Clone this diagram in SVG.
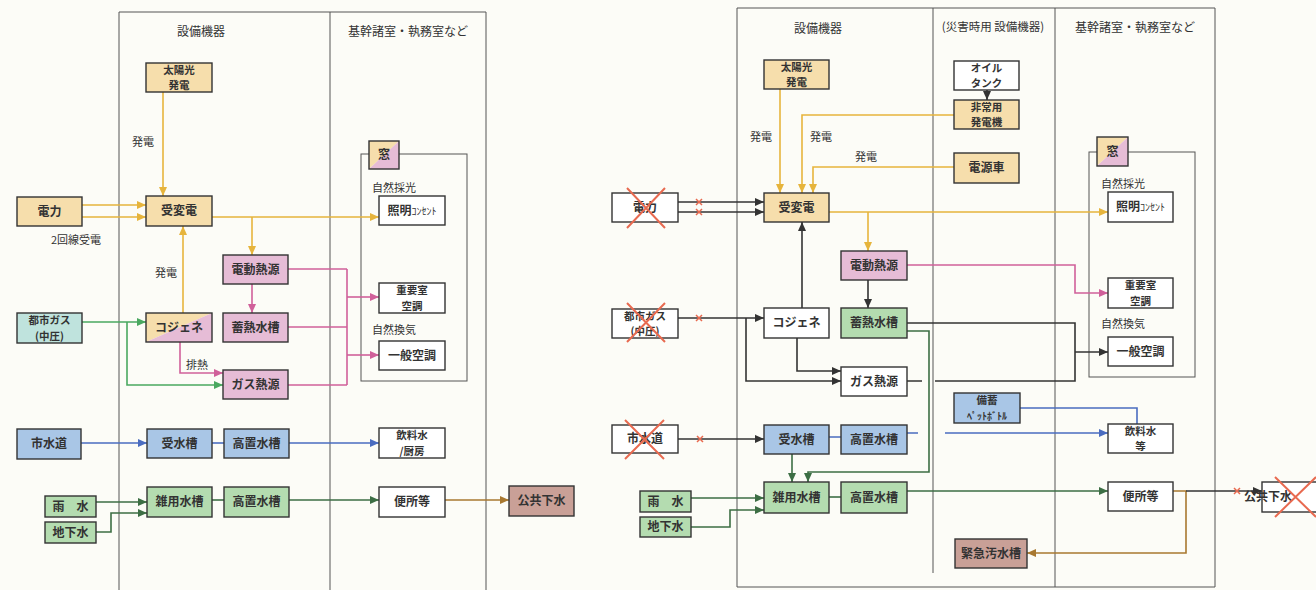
<svg xmlns="http://www.w3.org/2000/svg" width="1316" height="590" viewBox="0 0 1316 590">
<style>
.panel{fill:none;stroke:#555;stroke-width:1}
.box{stroke:#333;stroke-width:1.4}
.tan{fill:#f6deac}.pk{fill:#e6bcd6}.tl{fill:#bfe3dd}.bl{fill:#a9c6e6}.gr{fill:#b4dcb0}.br{fill:#c9a097}.wh{fill:#fff}
.t{font-family:"Noto Sans CJK JP",sans-serif;font-size:12px;font-weight:700;fill:#333;text-anchor:middle}
.t2{font-family:"Noto Sans CJK JP",sans-serif;font-size:10.5px;font-weight:700;fill:#333;text-anchor:middle}
.h{font-family:"Noto Sans CJK JP",sans-serif;font-size:12px;fill:#333;text-anchor:middle}
.l{font-family:"Noto Sans CJK JP",sans-serif;font-size:11px;fill:#333}
.c{fill:none;stroke-width:1.6}
.or{stroke:#e6b43c}.pi{stroke:#d0609a}.ga{stroke:#4aa860}.bu{stroke:#4a6cc0}.dg{stroke:#3c6e44}.bw{stroke:#a87830}.bk{stroke:#333}
.x{stroke:#e86a50;stroke-width:2;fill:none}
.xs{stroke:#e86a50;stroke-width:1.5;fill:none}
</style>
<defs>
<marker id="aor" markerUnits="userSpaceOnUse" markerWidth="9" markerHeight="8" refX="9" refY="4" orient="auto"><path d="M0,0 L9,4 L0,8 z" fill="#e6b43c"/></marker>
<marker id="api" markerUnits="userSpaceOnUse" markerWidth="9" markerHeight="8" refX="9" refY="4" orient="auto"><path d="M0,0 L9,4 L0,8 z" fill="#d0609a"/></marker>
<marker id="aga" markerUnits="userSpaceOnUse" markerWidth="9" markerHeight="8" refX="9" refY="4" orient="auto"><path d="M0,0 L9,4 L0,8 z" fill="#4aa860"/></marker>
<marker id="abu" markerUnits="userSpaceOnUse" markerWidth="9" markerHeight="8" refX="9" refY="4" orient="auto"><path d="M0,0 L9,4 L0,8 z" fill="#4a6cc0"/></marker>
<marker id="adg" markerUnits="userSpaceOnUse" markerWidth="9" markerHeight="8" refX="9" refY="4" orient="auto"><path d="M0,0 L9,4 L0,8 z" fill="#3c6e44"/></marker>
<marker id="abw" markerUnits="userSpaceOnUse" markerWidth="9" markerHeight="8" refX="9" refY="4" orient="auto"><path d="M0,0 L9,4 L0,8 z" fill="#a87830"/></marker>
<marker id="abk" markerUnits="userSpaceOnUse" markerWidth="9" markerHeight="8" refX="9" refY="4" orient="auto"><path d="M0,0 L9,4 L0,8 z" fill="#333"/></marker>
</defs>
<rect width="1316" height="590" fill="#fcfcf7"/>

<!-- LEFT PANEL -->
<g id="left-panel">
<path class="panel" d="M119,590 V12 H486 V590 M330,12 V590"/>
<text class="h" x="201" y="36">設備機器</text>
<text class="h" x="408" y="36">基幹諸室・執務室など</text>
<rect class="panel" x="361" y="154" width="106" height="227"/>
</g>

<!-- RIGHT PANEL -->
<g id="right-panel">
<path class="panel" d="M737,8 H1215 V587 H737 Z M933,8 V573 M1055,8 V587"/>
<text class="h" x="818" y="33">設備機器</text>
<text class="h" x="993" y="31" style="font-size:11.5px">(災害時用 設備機器)</text>
<text class="h" x="1135" y="32">基幹諸室・執務室など</text>
<rect class="panel" x="1089" y="152" width="106" height="225"/>
</g>

<!-- CONNECTORS -->
<g id="connectors">
<path class="c or" d="M82,205 H146" marker-end="url(#aor)"/>
<path class="c or" d="M82,217 H146" marker-end="url(#aor)"/>
<path class="c or" d="M163,92 V196" marker-end="url(#aor)"/>
<path class="c or" d="M183,313 V226" marker-end="url(#aor)"/>
<path class="c or" d="M212,217 H379" marker-end="url(#aor)"/>
<path class="c or" d="M252,217 V255" marker-end="url(#aor)"/>
<path class="c pi" d="M252,284 V313" marker-end="url(#api)"/>
<path class="c pi" d="M180,342 V373 H223" marker-end="url(#api)"/>
<path class="c ga" d="M82,322 H146" marker-end="url(#aga)"/>
<path class="c ga" d="M127,322 V385 H223" marker-end="url(#aga)"/>
<path class="c pi" d="M288,269 H347 M288,327 H347 M288,385 H347 M347,269 V385"/>
<path class="c pi" d="M347,297 H379" marker-end="url(#api)"/>
<path class="c pi" d="M347,355 H379" marker-end="url(#api)"/>
<path class="c bu" d="M81,443 H147" marker-end="url(#abu)"/>
<path class="c bu" d="M212,443 H224"/>
<path class="c bu" d="M289,443 H379" marker-end="url(#abu)"/>
<path class="c dg" d="M96,502 H147" marker-end="url(#adg)"/>
<path class="c dg" d="M96,532 H111 V513 H147" marker-end="url(#adg)"/>
<path class="c dg" d="M212,500 H224"/>
<path class="c dg" d="M289,500 H379" marker-end="url(#adg)"/>
<path class="c bw" d="M445,500 H509" marker-end="url(#abw)"/>
<path class="c bk" d="M678,202 H764" marker-end="url(#abk)"/>
<path class="c bk" d="M678,212 H764" marker-end="url(#abk)"/>
<path class="c or" d="M780,89 V193" marker-end="url(#aor)"/>
<path class="c or" d="M954,115 H802 V193" marker-end="url(#aor)"/>
<path class="c or" d="M954,167 H813 V193" marker-end="url(#aor)"/>
<path class="c bk" d="M987,90 V100" marker-end="url(#abk)"/>
<path class="c or" d="M829,212 H1108" marker-end="url(#aor)"/>
<path class="c or" d="M868,212 V251" marker-end="url(#aor)"/>
<path class="c bk" d="M868,280 V308" marker-end="url(#abk)"/>
<path class="c bk" d="M802,308 V222" marker-end="url(#abk)"/>
<path class="c bk" d="M678,318 H764" marker-end="url(#abk)"/>
<path class="c bk" d="M746,318 V381 H841" marker-end="url(#abk)"/>
<path class="c bk" d="M797,338 V371 H841" marker-end="url(#abk)"/>
<path class="c pi" d="M907,265 H1075 V293 H1108" marker-end="url(#api)"/>
<path class="c bk" d="M907,323 H1075 V381 H935 M922,381 H907"/>
<path class="c bk" d="M1075,352 H1108" marker-end="url(#abk)"/>
<path class="c dg" d="M907,331 H929 V472 H808 V482" marker-end="url(#adg)"/>
<path class="c dg" d="M792,454 V482" marker-end="url(#adg)"/>
<path class="c bk" d="M678,439 H764" marker-end="url(#abk)"/>
<path class="c bu" d="M829,437 H841 M907,433 H918"/>
<path class="c bu" d="M945,433 H1108" marker-end="url(#abu)"/>
<path class="c bu" d="M1020,408 H1137 V424"/>
<path class="c dg" d="M691,498 H764" marker-end="url(#adg)"/>
<path class="c dg" d="M691,527 H730 V510 H764" marker-end="url(#adg)"/>
<path class="c dg" d="M829,497 H841"/>
<path class="c dg" d="M907,491 H1108" marker-end="url(#adg)"/>
<path class="c bw" d="M1173,491 H1186 V553 H1027" marker-end="url(#abw)"/>
<path class="c bk" d="M1186,491 H1262" marker-end="url(#abk)"/>
<path class="xs" d="M696,199 L702,205 M702,199 L696,205 M696,209 L702,215 M702,209 L696,215 M696,315 L702,321 M702,315 L696,321 M697,436 L703,442 M703,436 L697,442 M1234,488 L1240,494 M1240,488 L1234,494"/>
</g>

<!-- LABELS -->
<g id="labels">
<text class="l" x="143" y="146" text-anchor="middle">発電</text>
<text class="l" x="166" y="277" text-anchor="middle">発電</text>
<text class="l" x="197" y="369" text-anchor="middle">排熱</text>
<text class="l" x="51" y="244">2回線受電</text>
<text class="l" x="372" y="192">自然採光</text>
<text class="l" x="372" y="334">自然換気</text>
<text class="l" x="761" y="141" text-anchor="middle">発電</text>
<text class="l" x="821" y="141" text-anchor="middle">発電</text>
<text class="l" x="866" y="161" text-anchor="middle">発電</text>
<text class="l" x="1101" y="188">自然採光</text>
<text class="l" x="1101" y="328">自然換気</text>
</g>

<!-- LEFT NODES -->
<g id="L-solar"><rect class="box tan" x="146" y="63" width="66" height="29"/><text class="t2" x="179" y="74">太陽光<tspan x="179" dy="15.3">発電</tspan></text></g>
<g id="L-jyuhen"><rect class="box tan" x="146" y="196" width="66" height="30"/><text class="t" x="179" y="215">受変電</text></g>
<g id="L-denryoku"><rect class="box tan" x="17" y="197" width="65" height="29"/><text class="t" x="49.5" y="216">電力</text></g>
<g id="L-dendo"><rect class="box pk" x="223" y="255" width="65" height="29"/><text class="t" x="255.5" y="274">電動熱源</text></g>
<g id="L-chikunetsu"><rect class="box pk" x="223" y="313" width="65" height="29"/><text class="t" x="255.5" y="332">蓄熱水槽</text></g>
<g id="L-cogen"><polygon class="tan" points="146,313 212,313 146,342"/><polygon class="pk" points="212,313 212,342 146,342"/><rect class="box" fill="none" x="146" y="313" width="66" height="29"/><text class="t" x="179" y="332">コジェネ</text></g>
<g id="L-toshigas"><rect class="box tl" x="17" y="313" width="65" height="30"/><text class="t2" x="49.5" y="324.4">都市ガス<tspan x="49.5" dy="15.3">(中圧)</tspan></text></g>
<g id="L-gasnetsu"><rect class="box pk" x="223" y="370" width="65" height="29"/><text class="t" x="255.5" y="389">ガス熱源</text></g>
<g id="L-mado"><polygon class="tan" points="369,141 399,141 369,169"/><polygon class="pk" points="399,141 399,169 369,169"/><rect class="box" fill="none" x="369" y="141" width="30" height="28"/><text class="t" x="384" y="159">窓</text></g>
<g id="L-shomei"><rect class="box wh" x="379" y="196" width="66" height="29"/><text class="t" x="412" y="215">照明<tspan style="font-size:10px;font-weight:400">ｺﾝｾﾝﾄ</tspan></text></g>
<g id="L-juyo"><rect class="box wh" x="379" y="283" width="66" height="30"/><text class="t2" x="412" y="294.4">重要室<tspan x="412" dy="15.3">空調</tspan></text></g>
<g id="L-ippan"><rect class="box wh" x="379" y="341" width="66" height="29"/><text class="t" x="412" y="360">一般空調</text></g>
<g id="L-shisuido"><rect class="box bl" x="17" y="429" width="64" height="30"/><text class="t" x="49" y="448">市水道</text></g>
<g id="L-jusui"><rect class="box bl" x="147" y="429" width="65" height="29"/><text class="t" x="179.5" y="448">受水槽</text></g>
<g id="L-kochi1"><rect class="box bl" x="224" y="429" width="65" height="29"/><text class="t" x="256.5" y="448">高置水槽</text></g>
<g id="L-inryo"><rect class="box wh" x="379" y="428" width="66" height="30"/><text class="t2" x="412" y="439.4">飲料水<tspan x="412" dy="15.3">/厨房</tspan></text></g>
<g id="L-zatsuyo"><rect class="box gr" x="147" y="487" width="65" height="30"/><text class="t" x="179.5" y="506">雑用水槽</text></g>
<g id="L-kochi2"><rect class="box gr" x="224" y="487" width="65" height="30"/><text class="t" x="256.5" y="506">高置水槽</text></g>
<g id="L-benjo"><rect class="box wh" x="379" y="487" width="66" height="30"/><text class="t" x="412" y="506">便所等</text></g>
<g id="L-kokyo"><rect class="box br" x="509" y="486" width="65" height="30"/><text class="t" x="541.5" y="505">公共下水</text></g>
<g id="L-usui"><rect class="box gr" x="45" y="496" width="51" height="21"/><text class="t" x="70.5" y="511">雨　水</text></g>
<g id="L-chika"><rect class="box gr" x="45" y="522" width="51" height="21"/><text class="t" x="70.5" y="537">地下水</text></g>

<!-- RIGHT NODES -->
<g id="R-solar"><rect class="box tan" x="764" y="60" width="65" height="29"/><text class="t2" x="796.5" y="70.9">太陽光<tspan x="796.5" dy="15.3">発電</tspan></text></g>
<g id="R-oil"><rect class="box wh" x="954" y="61" width="65" height="29"/><text class="t2" x="986.5" y="71.9">オイル<tspan x="986.5" dy="15.3">タンク</tspan></text></g>
<g id="R-hijo"><rect class="box tan" x="954" y="100" width="65" height="29"/><text class="t2" x="986.5" y="110.9">非常用<tspan x="986.5" dy="15.3">発電機</tspan></text></g>
<g id="R-dengen"><rect class="box tan" x="954" y="153" width="65" height="30"/><text class="t" x="986.5" y="172">電源車</text></g>
<g id="R-denryoku"><rect class="box wh" x="612" y="193" width="66" height="29"/><text class="t" x="645" y="212">電力</text><path class="x" d="M627,188 L665,228 M665,188 L627,228"/></g>
<g id="R-jyuhen"><rect class="box tan" x="764" y="193" width="65" height="29"/><text class="t" x="796.5" y="212">受変電</text></g>
<g id="R-mado"><polygon class="tan" points="1097,137 1128,137 1097,166"/><polygon class="pk" points="1128,137 1128,166 1097,166"/><rect class="box" fill="none" x="1097" y="137" width="31" height="29"/><text class="t" x="1112.5" y="156">窓</text></g>
<g id="R-shomei"><rect class="box wh" x="1108" y="192" width="65" height="30"/><text class="t" x="1140.5" y="211">照明<tspan style="font-size:10px;font-weight:400">ｺﾝｾﾝﾄ</tspan></text></g>
<g id="R-dendo"><rect class="box pk" x="841" y="251" width="66" height="29"/><text class="t" x="874" y="270">電動熱源</text></g>
<g id="R-juyo"><rect class="box wh" x="1108" y="278" width="65" height="30"/><text class="t2" x="1140.5" y="289.4">重要室<tspan x="1140.5" dy="15.3">空調</tspan></text></g>
<g id="R-ippan"><rect class="box wh" x="1108" y="337" width="65" height="29"/><text class="t" x="1140.5" y="356">一般空調</text></g>
<g id="R-toshigas"><rect class="box wh" x="612" y="309" width="66" height="29"/><text class="t2" x="645" y="319.9">都市ガス<tspan x="645" dy="15.3">(中圧)</tspan></text><path class="x" d="M627,303 L665,342 M665,303 L627,342"/></g>
<g id="R-cogen"><rect class="box wh" x="764" y="308" width="65" height="30"/><text class="t" x="796.5" y="327">コジェネ</text></g>
<g id="R-chikunetsu"><rect class="box gr" x="841" y="308" width="66" height="30"/><text class="t" x="874" y="327">蓄熱水槽</text></g>
<g id="R-gasnetsu"><rect class="box wh" x="841" y="367" width="66" height="29"/><text class="t" x="874" y="386">ガス熱源</text></g>
<g id="R-bichiku"><rect class="box bl" x="954" y="393" width="66" height="30"/><text class="t2" x="987" y="404.4">備蓄<tspan x="987" dy="15.3" style="font-size:10px">ﾍﾟｯﾄﾎﾞﾄﾙ</tspan></text></g>
<g id="R-shisuido"><rect class="box wh" x="612" y="425" width="66" height="28"/><text class="t" x="645" y="443">市水道</text><path class="x" d="M625,420 L664,459 M664,420 L625,459"/></g>
<g id="R-jusui"><rect class="box bl" x="764" y="425" width="65" height="29"/><text class="t" x="796.5" y="444">受水槽</text></g>
<g id="R-kochi1"><rect class="box bl" x="841" y="425" width="66" height="29"/><text class="t" x="874" y="444">高置水槽</text></g>
<g id="R-inryo"><rect class="box wh" x="1108" y="424" width="65" height="29"/><text class="t2" x="1140.5" y="434.9">飲料水<tspan x="1140.5" dy="15.3">等</tspan></text></g>
<g id="R-zatsuyo"><rect class="box gr" x="764" y="482" width="65" height="31"/><text class="t" x="796.5" y="502">雑用水槽</text></g>
<g id="R-kochi2"><rect class="box gr" x="841" y="482" width="66" height="31"/><text class="t" x="874" y="502">高置水槽</text></g>
<g id="R-benjo"><rect class="box wh" x="1108" y="482" width="65" height="29"/><text class="t" x="1140.5" y="501">便所等</text></g>
<g id="R-kokyo"><rect class="box wh" x="1262" y="482" width="70" height="30"/><text class="t" x="1268" y="501" text-anchor="start">公共下水</text><path class="x" d="M1275,477 L1316,517 M1316,477 L1275,517"/></g>
<g id="R-usui"><rect class="box gr" x="640" y="491" width="51" height="21"/><text class="t" x="665.5" y="506">雨　水</text></g>
<g id="R-chika"><rect class="box gr" x="640" y="517" width="51" height="20"/><text class="t" x="665.5" y="531">地下水</text></g>
<g id="R-kinkyu"><rect class="box br" x="955" y="539" width="72" height="29"/><text class="t" x="991" y="558">緊急汚水槽</text></g>
</svg>
